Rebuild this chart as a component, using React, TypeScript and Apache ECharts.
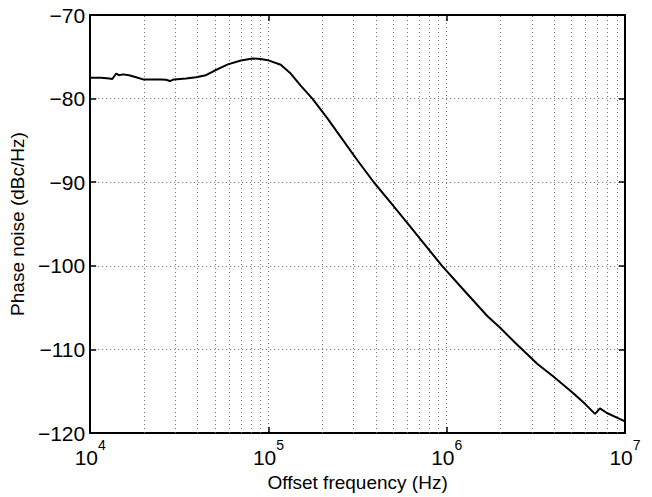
import React, { useEffect, useRef } from "react";
import * as echarts from "echarts";

const freqHz = [
  10000, 11500, 12800, 13300, 14000, 14500, 15300, 16500, 18100, 19800, 25000, 26600, 28000, 29500,
  34500, 39200, 44600, 49400, 54100, 59200, 70000, 81700, 90600, 99100, 117200, 133300, 151600,
  176300, 214700, 260500, 316000, 389900, 483500, 601900, 749400, 941200, 1271000,
  1688000, 1994000, 2420000, 2937000, 3214000, 3950000, 5110000, 5965000, 6785000, 7236000,
  7918000, 9010000, 10000000,
];
const phaseNoise = [
  -77.5, -77.5, -77.6, -77.65, -77.0, -77.2, -77.1, -77.2, -77.45, -77.7, -77.7, -77.75, -77.9, -77.7,
  -77.6, -77.45, -77.2, -76.7, -76.3, -75.9, -75.45, -75.2, -75.25, -75.4, -75.95, -77.0, -78.45,
  -80.0, -82.4, -84.9, -87.4, -90.0, -92.4, -94.9, -97.4, -100.0, -103.1,
  -106.0, -107.4, -109.2, -110.9, -111.7, -113.2, -115.2, -116.5, -117.7, -117.05,
  -117.6, -118.15, -118.6,
];
const minorGridFreqs = [
  20000, 30000, 40000, 50000, 60000, 70000, 80000, 90000,
  200000, 300000, 400000, 500000, 600000, 700000, 800000, 900000,
  2000000, 3000000, 4000000, 5000000, 6000000, 7000000, 8000000, 9000000,
];
const yTicks = { min: -120, max: -70, interval: 10 };
const xRange = { min: 1e4, max: 1e7 };

const FONT = "Liberation Sans, Arial, Helvetica, sans-serif";
const gridLine = { color: "#6a6a6a", width: 1, type: [1, 3] as number[] };

export default function App() {
  const ref = useRef<HTMLDivElement>(null);
  useEffect(() => {
    if (!ref.current) return;
    const chart = echarts.init(ref.current, null, { renderer: "svg" });
    const axisLine = { show: true, onZero: false, lineStyle: { color: "#000", width: 2 } };
    const axisTick = { show: true, inside: true, length: 6, lineStyle: { color: "#000", width: 1.5 } };
    const xLabel = (v: number) => `{a|10}{b|${Math.round(Math.log10(v))}}`;
    chart.setOption({
      animation: false,
      backgroundColor: "#fff",
      textStyle: { fontFamily: FONT },
      grid: { left: 89, top: 15, right: 27, bottom: 58, containLabel: false },
      xAxis: [
        {
          type: "log",
          logBase: 10,
          min: xRange.min,
          max: xRange.max,
          position: "bottom",
          axisLine,
          axisTick,
          name: "Offset frequency (Hz)",
          nameLocation: "middle",
          nameGap: 48,
          nameTextStyle: { fontSize: 19, color: "#000", fontFamily: FONT, verticalAlign: "middle" },
          axisLabel: {
            show: true,
            margin: 5,
            formatter: xLabel,
            color: "#000",
            rich: {
              a: { fontSize: 21, fontFamily: FONT, color: "#000", lineHeight: 21, verticalAlign: "bottom" },
              b: { fontSize: 14, fontFamily: FONT, color: "#000", lineHeight: 30, verticalAlign: "top" },
            },
          },
          splitLine: { show: true, lineStyle: gridLine },
          minorTick: { show: false },
        },
        {
          type: "log",
          logBase: 10,
          min: xRange.min,
          max: xRange.max,
          position: "top",
          axisLine,
          axisTick,
          axisLabel: { show: false },
          splitLine: { show: false },
        },
      ],
      yAxis: [
        {
          type: "value",
          min: yTicks.min,
          max: yTicks.max,
          interval: yTicks.interval,
          position: "left",
          axisLine,
          axisTick,
          name: "Phase noise (dBc/Hz)",
          nameLocation: "middle",
          nameGap: 68,
          nameRotate: 90,
          nameTextStyle: { fontSize: 19, color: "#000", fontFamily: FONT, verticalAlign: "middle" },
          axisLabel: {
            margin: 5,
            fontSize: 21,
            color: "#000",
            fontFamily: FONT,
            formatter: (v: number) => (v < 0 ? "\u2212" : "") + Math.abs(v),
          },
          splitLine: { show: true, lineStyle: gridLine },
        },
        {
          type: "value",
          min: yTicks.min,
          max: yTicks.max,
          interval: yTicks.interval,
          position: "right",
          axisLine,
          axisTick,
          axisLabel: { show: false },
          splitLine: { show: false },
        },
      ],
      series: [
        {
          type: "line",
          xAxisIndex: 0,
          yAxisIndex: 0,
          data: freqHz.map((f, i) => [f, phaseNoise[i]]),
          showSymbol: false,
          symbol: "none",
          lineStyle: { color: "#000", width: 2 },
          z: 5,
          markLine: {
            silent: true,
            symbol: "none",
            label: { show: false },
            lineStyle: gridLine,
            data: minorGridFreqs.map((f) => ({ xAxis: f })),
            z: 1,
          },
        },
      ],
    });
    return () => chart.dispose();
  }, []);
  return (
    <div
      ref={ref}
      style={{ position: "fixed", left: 0, top: 0, width: 652, height: 497, background: "#fff" }}
    />
  );
}
